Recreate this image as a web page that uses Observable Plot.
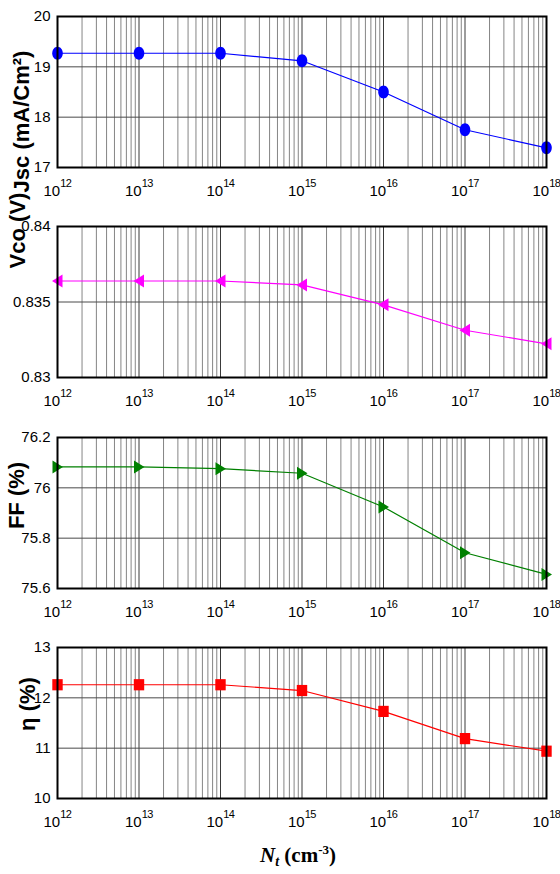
<!DOCTYPE html>
<html>
<head>
<meta charset="utf-8">
<script src="https://cdn.jsdelivr.net/npm/d3@7"></script>
<script src="https://cdn.jsdelivr.net/npm/@observablehq/plot@0.6"></script>
<style>
  body { margin: 0; background: white; }
  #root { position: relative; width: 560px; height: 874px; overflow: hidden; }
  #root svg { display: block; overflow: visible; }
  #xtitle { position: absolute; top: 842px; left: 50px; width: 496px; text-align: center;
            font-family: "Liberation Serif", "Times New Roman", serif; font-weight: bold; font-size: 21px; color: black; }
  #xtitle sub { font-size: 14px; vertical-align: -4px; font-style: italic; }
  #xtitle sup { font-size: 13px; vertical-align: 8px; }
</style>
</head>
<body>
<div id="root"></div>
<script>
// ---- data ----
const Nt = [1e12, 1e13, 1e14, 1e15, 1e16, 1e17, 1e18];
const jsc = [19.27, 19.27, 19.27, 19.12, 18.50, 17.75, 17.39];
const voc = [0.83639, 0.83639, 0.83639, 0.83613, 0.83481, 0.83313, 0.83223];
const ff  = [76.083, 76.083, 76.076, 76.058, 75.924, 75.742, 75.656];
const eta = [12.26, 12.26, 12.26, 12.145, 11.73, 11.19, 10.94];

const xDecades = [1e12, 1e13, 1e14, 1e15, 1e16, 1e17, 1e18];
const jscTicks = [17, 18, 19, 20];
const vocTicks = [0.83, 0.835, 0.84];
const ffTicks = [75.6, 75.8, 76, 76.2];
const etaTicks = [10, 11, 12, 13];

const labels = ["Jsc (mA/Cm²)", "Vco (V)", "FF (%)", "η (%)"];

// minor log grid positions (2..9 × each decade)
const minor = [];
for (const d of xDecades.slice(0, -1)) for (let k = 2; k <= 9; k++) minor.push(k * d);

// ---- custom marker shapes ----
const ellipseSym = {draw(ctx) {
  const rx = 5.3, ry = 6.5, k = 0.5523;
  ctx.moveTo(rx, 0);
  ctx.bezierCurveTo(rx, ry * k, rx * k, ry, 0, ry);
  ctx.bezierCurveTo(-rx * k, ry, -rx, ry * k, -rx, 0);
  ctx.bezierCurveTo(-rx, -ry * k, -rx * k, -ry, 0, -ry);
  ctx.bezierCurveTo(rx * k, -ry, rx, -ry * k, rx, 0);
  ctx.closePath();
}};
const triLeft = {draw(ctx) { ctx.moveTo(-5.5, 0); ctx.lineTo(5, -6.5); ctx.lineTo(5, 6.5); ctx.closePath(); }};
const triRight = {draw(ctx) { ctx.moveTo(5.5, 0); ctx.lineTo(-5, -6.5); ctx.lineTo(-5, 6.5); ctx.closePath(); }};
const squareSym = {draw(ctx) { ctx.rect(-5.2, -5.6, 10.4, 11.2); }};

function panel({values, ticks, color, symbol, label, labelX, labelDy, height, marginBottom}) {
  const data = Nt.map((x, i) => ({x, y: values[i]}));
  const svg = Plot.plot({
    width: 560, height, marginTop: 16, marginBottom, marginLeft: 57, marginRight: 14,
    style: {fontFamily: "'Liberation Sans', Arial, sans-serif", fontSize: "15px", color: "black", overflow: "visible", background: "transparent"},
    x: {type: "log", domain: [xDecades[0], xDecades[xDecades.length - 1]]},
    y: {domain: [ticks[0], ticks[ticks.length - 1]]},
    marks: [
      Plot.ruleX(minor, {stroke: "#858585", strokeWidth: 1}),
      Plot.ruleX(xDecades, {stroke: "#3a3a3a", strokeWidth: 1}),
      Plot.ruleY(ticks, {stroke: "#4a4a4a", strokeWidth: 1}),
      Plot.axisX({ticks: xDecades, tickSize: 0, tickPadding: 18, label: null,
                  tickFormat: d => "10^" + Math.round(Math.log10(d))}),
      Plot.axisY({ticks, tickSize: 0, tickPadding: 7, label: null, tickFormat: d => String(d)}),
      Plot.line(data, {x: "x", y: "y", stroke: color, strokeWidth: 1.2}),
      Plot.dot(data, {x: "x", y: "y", symbol, fill: color, stroke: "none", r: 6}),
      Plot.frame({stroke: "black", strokeWidth: 2}),
      Plot.text([label], {text: d => d, frameAnchor: "left", textAnchor: "middle", lineAnchor: "middle",
                          dx: labelX - 57, dy: labelDy, rotate: -90,
                          fontWeight: "bold", fontSize: 22, fill: "black"})
    ]
  });
  // superscript exponents on x tick labels
  svg.querySelectorAll("text").forEach(t => {
    const m = /^10\^(-?\d+)$/.exec(t.textContent);
    if (!m) return;
    t.textContent = "";
    const base = document.createElementNS("http://www.w3.org/2000/svg", "tspan");
    base.textContent = "10";
    const sup = document.createElementNS("http://www.w3.org/2000/svg", "tspan");
    sup.textContent = m[1];
    sup.setAttribute("dy", "-9");
    sup.setAttribute("font-size", "11");
    sup.setAttribute("letter-spacing", "-0.4");
    t.appendChild(base);
    t.appendChild(sup);
  });
  return svg;
}

const root = document.getElementById("root");
root.appendChild(panel({values: jsc, ticks: jscTicks, color: "#0000ff", symbol: ellipseSym, label: labels[0], labelX: 21, labelDy: 29.5, height: 210, marginBottom: 43}));
root.appendChild(panel({values: voc, ticks: vocTicks, color: "#ff00ff", symbol: triLeft, label: labels[1], labelX: 17, labelDy: -71.5, height: 211, marginBottom: 44}));
root.appendChild(panel({values: ff, ticks: ffTicks, color: "#008000", symbol: triRight, label: labels[2], labelX: 16, labelDy: -17.5, height: 210, marginBottom: 43}));
root.appendChild(panel({values: eta, ticks: etaTicks, color: "#ff0000", symbol: squareSym, label: labels[3], labelX: 27, labelDy: -19, height: 243, marginBottom: 76}));

const title = document.createElement("div");
title.id = "xtitle";
title.innerHTML = "<i>N</i><sub>t</sub> (cm<sup>-3</sup>)";
root.appendChild(title);
</script>
</body>
</html>
